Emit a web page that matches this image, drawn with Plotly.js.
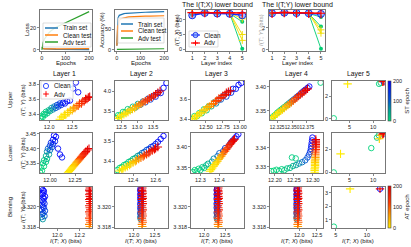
<!DOCTYPE html>
<html><head><meta charset="utf-8">
<script src="https://cdn.plot.ly/plotly-3.0.1.min.js"></script>
<style>html,body{margin:0;padding:0;background:#fff}#chart{width:411px;height:247px}</style>
</head><body><div id="chart"></div>
<script>
// ---------------- DATA ----------------
// epoch of each cloud point (ST epoch for Clean, AT epoch for Adv)
const EP  = [0,2,4,6,9,13,19,27,38,52,68,85,100,115,130,145,158,170,182,192,200];
const EPB = [60,80,100,110,120,130,140,150,160,165,170,175,180,185,188,191,194,196,198,199,200];

// top row: training curves
const epochs    = [0,1,2,3,5,10,20,30,40,50,60,80,100,120,140,160,180,200];
const lossTrain = [2.3,1.8,1.5,1.3,1.1,0.9,0.7,0.6,0.5,0.45,0.4,0.35,0.3,0.3,0.25,0.25,0.2,0.2];
const lossClean = [2.3,1.9,1.6,1.4,1.2,1.0,0.9,0.9,0.9,0.9,0.95,1.0,1.0,1.05,1.1,1.1,1.15,1.2];
const lossAdv   = [0,1.5,3,4.5,6.5,9.5,13,15.5,17.5,19,20.5,22.5,24.5,26.5,28.5,30.5,32.5,34.5];
const accTrain  = [10,40,60,70,78,84,87,88,89,89.5,90,90.5,91,91.5,92,92.5,93,93];
const accClean  = [10,45,28,60,50,72,76,78,79,80,80.5,81,81.5,82,82,82.5,83,83];
const accAdv    = [1,1,1,1.2,1.5,1.8,2,2,2.2,2.2,2.3,2.3,2.4,2.4,2.5,2.5,2.5,2.5];

const layers    = [1,2,3,4,5];
const itxClean  = [11.5,12.3,12.1,12.0,11.5];
const itxAdv    = [12.4,12.5,12.4,12.4,12.3];
const itxGreenA = [11.8,12.4,12.2,12.1,0.2];
const itxGreenB = [11.8,12.4,12.2,12.1,9.3];
const itxYelA   = [12.3,12.5,12.4,12.3,3.0];
const itxYelB   = [12.3,12.5,12.4,12.3,5.0];
const itxYelC   = [12.3,12.5,12.4,12.3,10.3];
const ityClean  = [3.28,3.33,3.30,3.28,3.22];
const ityAdv    = [3.30,3.35,3.32,3.30,3.28];
const ityGreenA = [3.25,3.30,3.28,3.25,0.1];
const ityGreenB = [3.25,3.30,3.28,3.25,2.1];
const ityGreenC = [3.25,3.30,3.28,3.25,2.95];
const ityYelA   = [3.28,3.32,3.30,3.28,1.5];
const ityYelB   = [3.28,3.32,3.30,3.28,1.8];

// Upper row
const u1CleanX = [11.81,11.83,11.86,11.88,11.91,11.93,11.96,11.99,12.02,12.05,12.08,12.11,12.14,12.17,12.2,12.23,12.26,12.3,12.34,12.39,12.45];
const u1CleanY = [3.34,3.37,3.36,3.40,3.39,3.43,3.41,3.45,3.44,3.48,3.46,3.50,3.48,3.52,3.50,3.54,3.52,3.55,3.54,3.57,3.58];
const u1OutX = [12.58,12.63,12.52], u1OutY = [3.82,3.69,3.74], u1OutE = [200,190,180];
const u1AdvX = [12.23,12.26,12.3,12.33,12.36,12.4,12.43,12.46,12.5,12.53,12.56,12.6,12.63,12.66,12.7,12.73,12.76,12.79,12.82,12.85,12.88];
const u1AdvY = [3.33,3.36,3.36,3.39,3.39,3.42,3.42,3.45,3.45,3.48,3.48,3.51,3.51,3.54,3.54,3.57,3.57,3.6,3.6,3.62,3.63];
const u2CleanX = [12.33,12.4,12.47,12.55,12.62,12.7,12.78,12.86,12.94,13.02,13.1,13.18,13.26,13.34,13.42,13.5,13.58,13.66,13.74,13.83,13.92];
const u2CleanY = [3.33,3.40,3.40,3.48,3.47,3.55,3.53,3.61,3.59,3.68,3.66,3.74,3.72,3.81,3.79,3.88,3.86,3.96,3.95,4.08,4.2];
const u2AdvX = [12.38,12.45,12.51,12.58,12.65,12.71,12.78,12.85,12.92,12.98,13.05,13.12,13.18,13.25,13.32,13.38,13.45,13.52,13.58,13.65,13.72];
const u2AdvY = [3.32,3.36,3.38,3.42,3.45,3.48,3.52,3.55,3.58,3.62,3.65,3.68,3.72,3.75,3.78,3.82,3.85,3.88,3.92,3.96,4.0];
const u3CleanX = [12.3,12.33,12.37,12.4,12.44,12.47,12.51,12.54,12.58,12.62,12.65,12.69,12.72,12.76,12.8,12.83,12.87,12.9,12.94,12.98,13.02];
const u3CleanY = [3.40,3.43,3.43,3.46,3.46,3.50,3.49,3.53,3.53,3.57,3.56,3.60,3.60,3.64,3.63,3.67,3.67,3.71,3.71,3.75,3.77];
const u3AdvX = [12.3,12.33,12.36,12.38,12.41,12.44,12.47,12.5,12.52,12.55,12.58,12.61,12.64,12.66,12.69,12.72,12.75,12.78,12.8,12.83,12.86];
const u3AdvY = [3.40,3.41,3.43,3.44,3.46,3.47,3.49,3.50,3.52,3.53,3.55,3.56,3.58,3.59,3.61,3.62,3.64,3.65,3.67,3.68,3.69];
const u4CleanX = [12.316,12.319,12.322,12.325,12.328,12.331,12.334,12.337,12.341,12.344,12.347,12.35,12.353,12.357,12.36,12.363,12.366,12.369,12.372,12.376,12.379];
const u4CleanY = [3.336,3.339,3.342,3.346,3.349,3.352,3.355,3.358,3.362,3.365,3.368,3.371,3.374,3.378,3.381,3.384,3.388,3.391,3.394,3.398,3.401];
const u4OutX = [12.398], u4OutY = [3.409], u4OutE = [5];
const u4AdvX = [12.316,12.319,12.322,12.325,12.328,12.331,12.334,12.337,12.34,12.343,12.346,12.349,12.352,12.355,12.358,12.361,12.364,12.367,12.37,12.373,12.376];
const u4AdvY = [3.335,3.338,3.341,3.344,3.347,3.35,3.353,3.356,3.359,3.362,3.365,3.368,3.371,3.375,3.378,3.381,3.384,3.387,3.39,3.393,3.396];
const u5CleanX = [1.67,11.25,11.6,12.2], u5CleanY = [0.05,3.1,3.2,3.3], u5CleanE = [0,5,10,200];
const u5AdvX = [4.6,12.0,12.25], u5AdvY = [3.1,3.28,3.3], u5AdvE = [0,150,200];

// Lower row
const l1CleanX = [11.9,11.92,11.91,11.94,11.93,11.96,11.94,11.97,11.96,11.99,11.97,12.0,11.98,12.02,12.0,12.03,12.01,12.05,12.03,12.06,12.04];
const l1CleanY = [3.32,3.325,3.335,3.34,3.35,3.355,3.36,3.365,3.375,3.38,3.39,3.395,3.40,3.405,3.41,3.415,3.42,3.425,3.43,3.44,3.445];
const l1OutX = [12.1,12.08,12.12], l1OutY = [3.38,3.40,3.37], l1OutE = [200,190,180];
const l1AdvX = [12.18,12.19,12.2,12.21,12.22,12.23,12.24,12.25,12.26,12.27,12.28,12.29,12.3,12.31,12.32,12.33,12.34,12.35,12.36,12.375,12.39];
const l1AdvY = [3.318,3.322,3.326,3.33,3.334,3.338,3.342,3.346,3.35,3.354,3.358,3.362,3.366,3.37,3.374,3.378,3.382,3.386,3.39,3.395,3.40];
const l2CleanX = [12.26,12.28,12.3,12.32,12.34,12.36,12.38,12.4,12.42,12.44,12.46,12.48,12.5,12.52,12.54,12.56,12.58,12.6,12.62,12.645,12.67];
const l2CleanY = [3.355,3.365,3.37,3.38,3.385,3.395,3.40,3.41,3.415,3.425,3.43,3.44,3.445,3.455,3.46,3.47,3.475,3.485,3.495,3.51,3.525];
const l2AdvX = [12.28,12.3,12.31,12.33,12.35,12.37,12.38,12.4,12.42,12.43,12.45,12.47,12.49,12.5,12.52,12.54,12.55,12.57,12.59,12.6,12.62];
const l2AdvY = [3.35,3.356,3.362,3.368,3.374,3.38,3.386,3.392,3.398,3.404,3.41,3.416,3.422,3.428,3.434,3.44,3.446,3.452,3.458,3.464,3.47];
const l3CleanX = [12.26,12.27,12.28,12.29,12.3,12.31,12.32,12.33,12.34,12.36,12.37,12.39,12.4,12.42,12.43,12.45,12.46,12.47,12.48,12.49,12.5];
const l3CleanY = [3.34,3.345,3.342,3.348,3.345,3.352,3.35,3.356,3.36,3.365,3.372,3.378,3.385,3.39,3.397,3.403,3.41,3.415,3.42,3.425,3.43];
const l3AdvX = [12.35,12.356,12.363,12.37,12.376,12.383,12.39,12.396,12.403,12.41,12.416,12.423,12.43,12.436,12.443,12.45,12.456,12.463,12.47,12.475,12.48];
const l3AdvY = [3.342,3.346,3.35,3.354,3.358,3.362,3.366,3.37,3.374,3.378,3.382,3.386,3.39,3.394,3.398,3.402,3.406,3.41,3.413,3.416,3.418];
const l4CleanX = [12.19,12.197,12.204,12.211,12.218,12.225,12.232,12.24,12.248,12.256,12.264,12.272,12.28,12.286,12.29,12.293,12.295,12.296,12.297,12.298,12.299];
const l4CleanY = [3.3278,3.328,3.3285,3.3279,3.3288,3.3283,3.3292,3.3295,3.3305,3.331,3.3318,3.3325,3.3335,3.335,3.3365,3.338,3.3395,3.341,3.3425,3.344,3.3455];
const l4OutX = [12.245,12.255], l4OutY = [3.335,3.3345], l4OutE = [10,15];
const l4AdvX = [12.305,12.305,12.305,12.306,12.306,12.306,12.306,12.306,12.307,12.307,12.307,12.307,12.307,12.307,12.308,12.308,12.308,12.308,12.308,12.308,12.308];
const l4AdvY = [3.3272,3.3281,3.329,3.3298,3.3307,3.3315,3.3324,3.3332,3.3341,3.335,3.3358,3.3367,3.3375,3.3384,3.3392,3.3401,3.341,3.3418,3.3427,3.3436,3.3445];
const l5CleanX = [1.67,9.6,10.8,11.2,12.2], l5CleanY = [0.0,2.1,3.0,3.2,3.35], l5CleanE = [0,5,10,15,200];
const l5AdvX = [3.1,11.3,11.6,12.0,12.2], l5AdvY = [1.6,2.9,3.2,3.3,3.35], l5AdvE = [0,20,50,150,200];

// Binning row
const bCleanY = [3.3188,3.3190,3.3191,3.3193,3.3194,3.3196,3.3197,3.3199,3.3200,3.3202,3.3203,3.3205,3.3206,3.3208,3.3209,3.3210,3.3212,3.3213,3.3215,3.3216,3.3218];
const bAdvY   = [3.3181,3.3183,3.3185,3.3187,3.3189,3.3191,3.3193,3.3195,3.3197,3.3199,3.3201,3.3203,3.3205,3.3207,3.3208,3.3210,3.3212,3.3213,3.3215,3.3216,3.3218];
const b1CleanX = [11.87,11.86,11.885,11.865,11.875,11.89,11.86,11.88,11.87,11.865,11.885,11.875,11.86,11.88,11.87,11.89,11.865,11.875,11.88,11.87,11.86];
const b1AdvX = [12.29,12.285,12.295,12.29,12.285,12.295,12.29,12.285,12.295,12.29,12.285,12.295,12.29,12.285,12.295,12.29,12.285,12.295,12.29,12.285,12.29];
const b2CleanX = [12.16,12.15,12.17,12.16,12.15,12.17,12.16,12.15,12.17,12.16,12.15,12.17,12.16,12.15,12.17,12.16,12.15,12.17,12.16,12.15,12.16];
const b2AdvX = [12.2,12.19,12.21,12.2,12.19,12.21,12.2,12.19,12.21,12.2,12.19,12.21,12.2,12.19,12.21,12.2,12.19,12.21,12.2,12.19,12.2];
const b3CleanX = [12.31,12.3,12.32,12.31,12.3,12.32,12.31,12.3,12.32,12.31,12.3,12.32,12.31,12.3,12.32,12.31,12.3,12.32,12.31,12.3,12.31];
const b3AdvX = [12.34,12.33,12.35,12.34,12.33,12.35,12.34,12.33,12.35,12.34,12.33,12.35,12.34,12.33,12.35,12.34,12.33,12.35,12.34,12.33,12.34];
const b4CleanX = [11.93,11.92,11.94,11.93,11.92,11.94,11.93,11.92,11.94,11.93,11.92,11.94,11.93,11.92,11.94,11.93,11.92,11.94,11.93,11.92,11.93];
const b4AdvX = [11.96,11.95,11.97,11.96,11.95,11.97,11.96,11.95,11.97,11.96,11.95,11.97,11.96,11.95,11.97,11.96,11.95,11.97,11.96,11.95,11.96];
const b5CleanX = [4.7,12.1], b5CleanY = [0.5,3.3], b5CleanE = [0,200];
const b5AdvX = [7.3,12.1], b5AdvY = [3.3,3.3], b5AdvE = [0,200];

// tick values
const tEp = [0,100,200], tLoss = [0,20], tAcc = [0,50], tLay = [1,2,3,4,5], tItx = [0,5,10], tIty = [0,2];
const u1xT=[12.0,12.5], u1yT=[3.4,3.6,3.8];
const u2xT=[12.5,13.0,13.5], u2yT=[3.5,4.0];
const u3xT=[12.5,12.75,13.0], u3yT=[3.4,3.6];
const u4xT=[12.325,12.35,12.375], u4yT=[3.35,3.40];
const c5xT=[5,10], c5yT=[0,2];
const l1xT=[12.0,12.25], l1yT=[3.35,3.40,3.45];
const l2xT=[12.4,12.6], l2yT=[3.4,3.5];
const l3xT=[12.3,12.4], l3yT=[3.35,3.40];
const l4xT=[12.2,12.25,12.3], l4yT=[3.33,3.34];
const bxT=[12.0,12.5], b1xT=[12.0,12.2], byT=[3.318,3.320], b5xT=[5,10], b5yT=[1,2,3];
const cbT=[0,100,200];

// ---------------- LAYOUT HELPERS ----------------
const W=411,H=247;
const PX = x=>x/W, PY = y=>1-y/H;
const FONT='Liberation Sans, Arial, sans-serif';
const ST=[[0,'rgb(0,215,120)'],[0.25,'rgb(0,165,150)'],[0.5,'rgb(0,90,205)'],[1,'rgb(0,0,255)']];
const AT=[[0,'rgb(255,235,0)'],[0.3,'rgb(255,160,0)'],[0.6,'rgb(255,60,0)'],[1,'rgb(230,0,0)']];
const layout={width:W,height:H,margin:{l:0,r:0,t:0,b:0},paper_bgcolor:'#fff',plot_bgcolor:'#fff',
  showlegend:false,font:{family:FONT,size:6,color:'#222'},shapes:[],annotations:[]};
function setAxes(n,xpx,ypx,xr,yr,xt,yt,xf,yf,xfs){
  const base={showline:true,mirror:true,linecolor:'#555',linewidth:0.8,ticks:'outside',ticklen:2,tickwidth:0.7,
    tickcolor:'#555',showgrid:false,zeroline:false,tickfont:{size:5.5,color:'#222'},tickangle:0,fixedrange:true};
  layout['xaxis'+n]=Object.assign({},base,{domain:[PX(xpx[0]),PX(xpx[1])],range:xr,tickvals:xt,tickformat:xf||'',anchor:'y'+n,
    tickfont:{size:xfs||5.5,color:'#222'}});
  layout['yaxis'+n]=Object.assign({},base,{domain:[PY(ypx[1]),PY(ypx[0])],range:yr,tickvals:yt,tickformat:yf||'',anchor:'x'+n});
}
const traces=[];
function line(n,x,y,color,w,extra){traces.push(Object.assign({type:'scatter',mode:'lines',x:x,y:y,xaxis:'x'+n,yaxis:'y'+n,
  line:{color:color,width:w||1},hoverinfo:'skip'},extra||{}));}
function cloud(n,x,y,ep,kind,cb){
  const m={color:ep,cmin:0,cmax:200,colorscale:kind==='c'?ST:AT,size:kind==='c'?5.5:6,
    symbol:kind==='c'?'circle-open':'cross-thin-open',line:{width:kind==='c'?0.9:1.1}};
  if(cb){m.showscale=true;m.colorbar=cb;}
  traces.push({type:'scatter',mode:'markers',x:x,y:y,xaxis:'x'+n,yaxis:'y'+n,marker:m,hoverinfo:'skip'});
}
function ann(x,y,text,size,opt){layout.annotations.push(Object.assign({xref:'paper',yref:'paper',x:PX(x),y:PY(y),
  text:text,showarrow:false,font:{size:size,family:FONT,color:'#111'},xanchor:'center',yanchor:'middle'},opt||{}));}
function shp(s){layout.shapes.push(Object.assign({xref:'paper',yref:'paper',layer:'above'},s));}
function box(x0,y0,x1,y1){shp({type:'rect',x0:PX(x0),x1:PX(x1),y0:PY(y1),y1:PY(y0),line:{color:'#cfcfcf',width:0.7},fillcolor:'rgba(255,255,255,0.85)'});}
function lseg(x0,x1,y,c,w){shp({type:'line',x0:PX(x0),x1:PX(x1),y0:PY(y),y1:PY(y),line:{color:c,width:w}});}
function circ(cx,cy,r,c,fill){shp({type:'circle',x0:PX(cx-r),x1:PX(cx+r),y0:PY(cy+r),y1:PY(cy-r),line:{color:c,width:0.9},fillcolor:fill||'rgba(0,0,0,0)'});}
function plus(cx,cy,r,c){lseg(cx-r,cx+r,cy,c,1);shp({type:'line',x0:PX(cx),x1:PX(cx),y0:PY(cy-r),y1:PY(cy+r),line:{color:c,width:1}});}

// ---------------- TOP ROW ----------------
const TY=[10,51];
setAxes(1,[40,92],TY,[-8,212],[-1,36],tEp,tLoss);
line(1,epochs,lossTrain,'#1f77b4',1.2); line(1,epochs,lossClean,'#ff7f0e',1.2); line(1,epochs,lossAdv,'#2ca02c',1.2);
setAxes(2,[115,167],TY,[-8,212],[-3,97],tEp,tAcc);
line(2,epochs,accTrain,'#1f77b4',1.2); line(2,epochs,accClean,'#ff7f0e',1.2); line(2,epochs,accAdv,'#2ca02c',1.2);
setAxes(3,[186,246],TY,[0.5,5.3],[-0.6,13.3],tLay,tItx);
const G='rgb(0,205,115)', Y='rgb(240,222,0)';
[itxGreenA,itxGreenB].forEach(v=>line(3,layers,v,G,0.9,{mode:'lines+markers',marker:{color:G,size:4}}));
[itxYelA,itxYelB,itxYelC].forEach(v=>line(3,layers,v,Y,0.9,{mode:'lines+markers',marker:{color:Y,size:5,symbol:'cross-thin-open',line:{width:1,color:Y}}}));
line(3,layers,itxClean,'rgb(20,40,255)',1.5,{mode:'lines+markers',marker:{color:'rgba(90,140,255,0.55)',size:7,line:{color:'rgb(20,40,230)',width:1}}});
line(3,layers,itxAdv,'rgb(255,0,0)',1.5,{mode:'lines+markers',marker:{color:'red',size:7,symbol:'cross-thin-open',line:{width:1.2,color:'red'}}});
setAxes(4,[269,325],TY,[0.75,5.33],[-0.09,3.57],tLay,tIty);
[ityGreenA,ityGreenB,ityGreenC].forEach(v=>line(4,layers,v,G,0.9,{mode:'lines+markers',marker:{color:G,size:4}}));
[ityYelA,ityYelB].forEach(v=>line(4,layers,v,Y,0.9,{mode:'lines+markers',marker:{color:Y,size:5,symbol:'cross-thin-open',line:{width:1,color:Y}}}));
line(4,layers,ityClean,'rgb(20,40,255)',1.5,{mode:'lines+markers',marker:{color:'rgba(90,140,255,0.55)',size:7,line:{color:'rgb(20,40,230)',width:1}}});
line(4,layers,ityAdv,'rgb(255,0,0)',1.5,{mode:'lines+markers',marker:{color:'red',size:7,symbol:'cross-thin-open',line:{width:1.2,color:'red'}}});

// ---------------- GRID ----------------
const C=[[40,92],[115,168],[191,244],[270,323],[332,385]];
const R=[[81,120],[133,173],[187,228]];
const cbST={x:PX(388),xanchor:'left',xpad:0,ypad:0,y:PY(121),yanchor:'bottom',len:40/H,lenmode:'fraction',thickness:3,
  tickvals:cbT,ticks:'',tickfont:{size:5.5},outlinewidth:0.6,outlinecolor:'#444',title:{text:'ST epoch',side:'right',font:{size:6}}};
const cbAT=Object.assign({},cbST,{y:PY(228),len:42/H,title:{text:'AT epoch',side:'right',font:{size:6}}});

setAxes(5,C[0],R[0],[11.8,12.93],[3.32,3.84],u1xT,u1yT,'.1f','.1f');
cloud(5,u1CleanX,u1CleanY,EP,'c',cbST); cloud(5,u1OutX,u1OutY,u1OutE,'c'); cloud(5,u1AdvX,u1AdvY,EP,'a');
setAxes(6,C[1],R[0],[12.3,13.97],[3.28,4.25],u2xT,u2yT,'.1f','.1f');
cloud(6,u2CleanX,u2CleanY,EP,'c'); cloud(6,u2AdvX,u2AdvY,EP,'a');
setAxes(7,C[2],R[0],[12.28,13.06],[3.39,3.79],u3xT,u3yT,'.2f','.1f');
cloud(7,u3CleanX,u3CleanY,EP,'c'); cloud(7,u3AdvX,u3AdvY,EP,'a');
setAxes(8,C[3],R[0],[12.313,12.402],[3.331,3.4125],u4xT,u4yT,'.3f','.2f',4.8);
cloud(8,u4CleanX,u4CleanY,EP,'c'); cloud(8,u4AdvX,u4AdvY,EP,'a'); cloud(8,u4OutX,u4OutY,u4OutE,'c');
setAxes(9,C[4],R[0],[1.3,12.5],[-0.1,3.35],c5xT,c5yT);
cloud(9,u5CleanX,u5CleanY,u5CleanE,'c'); cloud(9,u5AdvX,u5AdvY,u5AdvE,'a');

setAxes(10,C[0],R[1],[11.9,12.42],[3.317,3.453],l1xT,l1yT,'.2f','.2f');
cloud(10,l1CleanX,l1CleanY,EP,'c'); cloud(10,l1OutX,l1OutY,l1OutE,'c'); cloud(10,l1AdvX,l1AdvY,EP,'a');
setAxes(11,C[1],R[1],[12.24,12.71],[3.34,3.54],l2xT,l2yT,'.1f','.1f');
cloud(11,l2CleanX,l2CleanY,EP,'c'); cloud(11,l2AdvX,l2AdvY,EP,'a');
setAxes(12,C[2],R[1],[12.25,12.53],[3.338,3.433],l3xT,l3yT,'.1f','.2f');
cloud(12,l3CleanX,l3CleanY,EP,'c'); cloud(12,l3AdvX,l3AdvY,EP,'a');
setAxes(13,C[3],R[1],[12.187,12.327],[3.3268,3.3479],l4xT,l4yT,'.2f','.2f');
cloud(13,l4CleanX,l4CleanY,EP,'c'); cloud(13,l4OutX,l4OutY,l4OutE,'c'); cloud(13,l4AdvX,l4AdvY,EP,'a');
setAxes(14,C[4],R[1],[1.3,12.5],[-0.05,3.4],c5xT,c5yT);
cloud(14,l5CleanX,l5CleanY,l5CleanE,'c'); cloud(14,l5AdvX,l5AdvY,l5AdvE,'a');

const BY=[3.31795,3.3219];
setAxes(15,C[0],R[2],[11.845,12.31],BY,b1xT,byT,'.1f','.3f');
cloud(15,b1CleanX,bCleanY,EPB,'c'); cloud(15,b1AdvX,bAdvY,EPB,'a',cbAT);
setAxes(16,C[1],R[2],[11.55,12.81],BY,bxT,byT,'.1f','.3f');
cloud(16,b2CleanX,bCleanY,EPB,'c'); cloud(16,b2AdvX,bAdvY,EPB,'a');
setAxes(17,C[2],R[2],[11.69,12.95],BY,bxT,byT,'.1f','.3f');
cloud(17,b3CleanX,bCleanY,EPB,'c'); cloud(17,b3AdvX,bAdvY,EPB,'a');
setAxes(18,C[3],R[2],[11.17,12.67],BY,bxT,byT,'.1f','.3f');
cloud(18,b4CleanX,bCleanY,EPB,'c'); cloud(18,b4AdvX,bAdvY,EPB,'a');
setAxes(19,C[4],R[2],[4.4,12.9],[0.4,3.44],b5xT,b5yT);
cloud(19,b5CleanX,b5CleanY,b5CleanE,'c'); cloud(19,b5AdvX,b5AdvY,b5AdvE,'a');

// ---------------- TEXT ----------------
ann(27,30,'Loss',6,{textangle:-90});
ann(66,63,'Epochs',6); ann(141,63,'Epochs',6);
ann(102,30,'Accuracy (%)',6,{textangle:-90});
ann(217,5,'The I(T;X) lower bound',7); ann(297,5,'The I(T;Y) lower bound',7);
ann(177,30,'<i>I</i>(<i>T</i>; <i>X</i>) (bits)',6,{textangle:-90});
ann(261,30,'<i>I</i>(<i>T</i>; <i>Y</i>) (bits)',6,{textangle:-90,font:{size:6,family:FONT,color:'#999'}});
ann(216,63,'Layer index',6); ann(297,63,'Layer index',6);
['Layer 1','Layer 2','Layer 3','Layer 4','Layer 5'].forEach((t,i)=>ann([64,141,216,296,358][i],74,t,6.8));
[['Upper',100],['Lower',153],['Binning',207]].forEach(([t,y])=>{ann(10,y,t,6,{textangle:-90});
  ann(23,y,'<i>I</i>(<i>T</i>; <i>Y</i>) (bits)',6,{textangle:-90});});
[66,141,217,297,358].forEach(x=>ann(x,241,'<i>I</i>(<i>T</i>; <i>X</i>) (bits)',6));

// legends
box(43,23,91,47);
[['Train set','#1f77b4',28],['Clean test','#ff7f0e',35],['Adv test','#2ca02c',42]].forEach(([t,c,y])=>{lseg(45,58,y,c,1.5);ann(61,y,t,6.3,{xanchor:'left'});});
box(118,18,164,43);
[['Train set','#1f77b4',24],['Clean test','#ff7f0e',31],['Adv test','#2ca02c',38]].forEach(([t,c,y])=>{lseg(121,133,y,c,1.5);ann(136,y,t,6.3,{xanchor:'left'});});
box(189,31,218,47);
lseg(191,200,35,'rgb(20,40,255)',1.2); circ(195.5,35,2.6,'rgb(20,40,230)','rgba(90,140,255,0.55)'); ann(202,35,'Clean',6.3,{xanchor:'left'});
lseg(191,200,43,'red',1.2); plus(195.5,43,2.6,'red'); ann(202,43,'Adv',6.3,{xanchor:'left'});
box(41,81,73,99);
circ(46,86,2.6,'rgb(30,60,255)'); ann(52,86,'Clean',6.3,{xanchor:'left'});
plus(46,94,2.8,'red'); ann(52,94,'Adv',6.3,{xanchor:'left'});

Plotly.newPlot('chart',traces,layout,{staticPlot:true,displayModeBar:false});
</script></body></html>
